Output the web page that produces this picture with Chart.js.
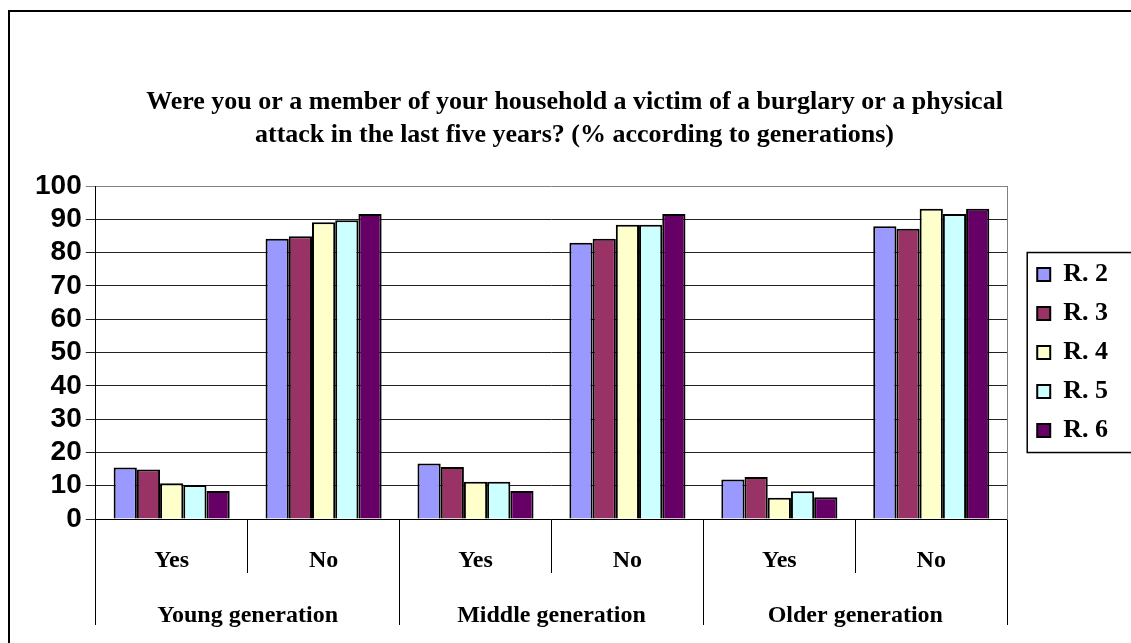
<!DOCTYPE html>
<html>
<head>
<meta charset="utf-8" />
<title>Burglary or physical attack by generation</title>
<script src="https://cdn.jsdelivr.net/npm/chart.js@4"></script>
<style>
  html, body { margin: 0; padding: 0; background: #fff; overflow: hidden; }
  #wrap { position: relative; width: 1131px; height: 643px; }
  #frame { position: absolute; left: 8px; top: 10px; width: 1200px; height: 700px;
           border-left: 2px solid #000; border-top: 2px solid #000; }
  canvas { position: absolute; left: 0; top: 0; }
</style>
</head>
<body>
<div id="wrap">
  <div id="frame"></div>
  <canvas id="myChart" width="1131" height="643"></canvas>
</div>
<script>
// answers under each generation
var answers = ['Yes', 'No', 'Yes', 'No', 'Yes', 'No'];
var generations = ['Young generation', 'Middle generation', 'Older generation'];
var seriesNames = ['R. 2', 'R. 3', 'R. 4', 'R. 5', 'R. 6'];
var seriesColors = ['#9999ff', '#993366', '#ffffcc', '#ccffff', '#660066'];

// % values
var r2 = [15.5, 84.2, 16.7, 83.0, 11.9, 87.9];
var r3 = [14.9, 84.9, 15.6, 84.2, 12.6, 87.2];
var r4 = [10.7, 89.1, 11.2, 88.4, 6.4, 93.2];
var r5 = [10.2, 89.7, 11.2, 88.4, 8.3, 91.6];
var r6 = [8.4, 91.6, 8.4, 91.6, 6.5, 93.2];
var seriesValues = [r2, r3, r4, r5, r6];

var yTicks = [0, 10, 20, 30, 40, 50, 60, 70, 80, 90, 100];

var serif = "'Liberation Serif', 'Times New Roman', serif";
var sans = "'Liberation Sans', Arial, sans-serif";

var datasets = seriesNames.map(function(name, i) {
  return {
    label: name,
    data: seriesValues[i],
    backgroundColor: seriesColors[i],
    borderColor: '#000',
    borderWidth: 2,
    categoryPercentage: 0.764,
    barPercentage: 1.0
  };
});

// box round the legend, like the Excel one
var legendFrame = {
  id: 'legendFrame',
  afterDraw: function(chart) {
    var hb = chart.legend.legendHitBoxes;
    if (!hb || !hb.length) return;
    var last = hb[hb.length - 1];
    var ctx = chart.ctx;
    ctx.save();
    ctx.strokeStyle = '#000';
    ctx.lineWidth = 1.5;
    var top = hb[0].top - 9;
    ctx.strokeRect(hb[0].left - 10, top, chart.width, last.top + last.height + 9 - top);
    ctx.restore();
  }
};

var ctx = document.getElementById('myChart');
var myChart = new Chart(ctx, {
  type: 'bar',
  data: { labels: answers, datasets: datasets },
  plugins: [legendFrame],
  options: {
    responsive: false,
    animation: false,
    layout: { padding: { left: 31, right: 13, top: 0, bottom: 12 } },
    plugins: {
      title: {
        display: true,
        text: ['Were you or a member of your household a victim of a burglary or a physical',
               'attack in the last five years? (% according to generations)'],
        color: '#000',
        font: { family: serif, size: 26, weight: 'bold', lineHeight: 1.27 },
        padding: { top: 86, bottom: 34 }
      },
      legend: {
        position: 'right',
        fullSize: false,
        align: 'center',
        labels: {
          color: '#000',
          font: { family: serif, size: 26, weight: 'bold' },
          boxWidth: 13,
          boxHeight: 13,
          padding: 13
        }
      },
      tooltip: { enabled: false }
    },
    scales: {
      x: {
        weight: 0,
        grid: { drawOnChartArea: false, offset: true, tickLength: 54, color: '#000', lineWidth: 1 },
        border: { color: '#000', width: 1 },
        ticks: { color: '#000', padding: -27, maxRotation: 0, autoSkip: false,
                 font: { family: serif, size: 24, weight: 'bold' } },
        afterFit: function(scale) { scale.height = 54; }
      },
      x2: {
        type: 'category',
        position: 'bottom',
        weight: 1,
        labels: generations,
        offset: true,
        grid: { drawOnChartArea: false, offset: true, tickLength: 52, color: '#000', lineWidth: 1 },
        border: { display: false },
        ticks: { color: '#000', padding: -24, maxRotation: 0, autoSkip: false,
                 font: { family: serif, size: 24, weight: 'bold' } },
        afterFit: function(scale) { scale.height = 58; }
      },
      y: {
        min: 0,
        max: 100,
        afterBuildTicks: function(scale) {
          scale.ticks = yTicks.map(function(v) { return { value: v }; });
        },
        grid: {
          color: function(c) { return c.tick && c.tick.value === 100 ? '#808080' : '#222'; },
          lineWidth: 1,
          tickLength: 10
        },
        border: { color: '#000', width: 1 },
        ticks: { color: '#000', padding: 4, autoSkip: false,
                 font: { family: sans, size: 28, weight: 'bold' } }
      },
      y2: {
        position: 'right',
        grid: { drawOnChartArea: false, drawTicks: false },
        border: { color: '#808080', width: 1 },
        ticks: { display: false },
        afterFit: function(scale) { scale.width = 17; }
      }
    }
  }
});
</script>
</body>
</html>
